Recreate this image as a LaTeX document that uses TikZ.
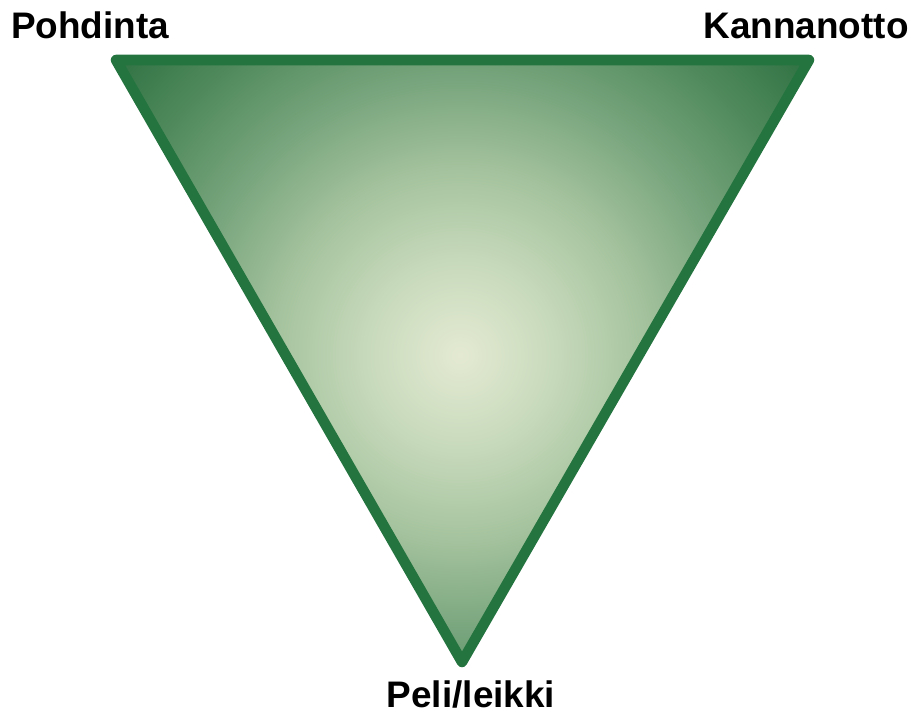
\documentclass[tikz,border=0pt]{standalone}
\usepackage{fontspec}
\setmainfont{Liberation Sans}
\usepackage{tikz}
\usepackage{xcolor}
\usetikzlibrary{positioning}
\definecolor{edgegreen}{RGB}{36,116,64}
\pgfdeclareradialshading{glow}{\pgfpoint{0bp}{0bp}}{%
  color(0bp)=(rgb,255:red,228;green,234;blue,210);
  color(5bp)=(rgb,255:red,200;green,218;blue,188);
  color(10bp)=(rgb,255:red,165;green,195;blue,158);
  color(15bp)=(rgb,255:red,120;green,165;blue,125);
  color(20bp)=(rgb,255:red,80;green,138;blue,92);
  color(25bp)=(rgb,255:red,45;green,112;blue,65);
  color(50bp)=(rgb,255:red,45;green,112;blue,65)}
\tikzstyle{corner} = [font=\fontsize{10.5}{12}\selectfont\bfseries, anchor=base, inner sep=0pt]
\tikzstyle{side} = [line width=3pt, draw=edgegreen, line join=round]

\begin{document}
\begin{tikzpicture}[x=0.01cm, y=-0.01cm]
        \useasboundingbox (0,0) rectangle (917,715);
        \coordinate (top left) at (116,60);
        \coordinate (top right) at (809,60);
        \coordinate (bottom) at (462,662);

        % shaded body
        \begin{scope}
            \clip (top left) -- (top right) -- (bottom) -- cycle;
            \shade[shading=glow] (460,355) circle (460);
        \end{scope}
        \draw[side] (top left) -- (top right) -- (bottom) -- cycle;

        \node[corner] (pohdinta) at (90,38) {Pohdinta};
        \node[corner] (kannanotto) at (806,38) {Kannanotto};
        \node[corner] (peli) at (471,708) {Peli/leikki};
    \end{tikzpicture}
\end{document}
